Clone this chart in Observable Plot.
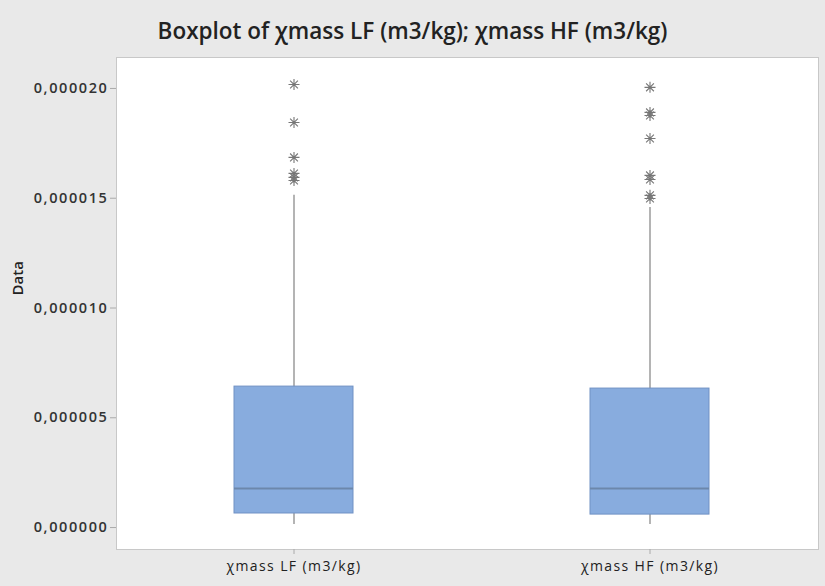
<!DOCTYPE html>
<html>
<head>
<meta charset="utf-8">
<script src="https://cdn.jsdelivr.net/npm/d3@7"></script>
<script src="https://cdn.jsdelivr.net/npm/@observablehq/plot@0.6"></script>
<style>
  html, body { margin: 0; padding: 0; background: #e9e9e9; }
  body { width: 825px; height: 586px; overflow: hidden; font-family: "Open Sans", "Noto Sans", sans-serif; }
  #title { height: 50px; line-height: 62px; text-align: center; font-size: 22.5px; font-weight: 600; color: #222; }
  #chart svg { display: block; }
  #chart g[aria-label="y-axis tick label"] text { letter-spacing: 1.6px; }
  #chart g[aria-label="x-axis tick label"] text { letter-spacing: 1.4px; }
</style>
</head>
<body>
<div id="title">Boxplot of χmass LF (m3/kg); χmass HF (m3/kg)</div>
<div id="chart"></div>
<script>
// Series names (x categories)
const categories = ["χmass LF (m3/kg)", "χmass HF (m3/kg)"];
// Box summaries
const whiskerLow  = [0.00000014, 0.00000014];
const q1          = [0.00000064, 0.00000059];
const median      = [0.00000178, 0.00000178];
const q3          = [0.00000642, 0.00000633];
const whiskerHigh = [0.00001513, 0.00001458];
// Outliers (asterisks)
const outliersLF = [0.00002018, 0.00001845, 0.00001686, 0.00001613, 0.00001595, 0.00001581];
const outliersHF = [0.00002005, 0.00001891, 0.00001877, 0.00001772, 0.00001604, 0.00001585, 0.00001513, 0.00001499];
// Y tick values
const yTicks = [0, 0.000005, 0.00001, 0.000015, 0.00002];

const stats = categories.map((name, i) => ({
  name, lo: whiskerLow[i], q1: q1[i], median: median[i], q3: q3[i], hi: whiskerHigh[i]
}));
const outliers = [
  ...outliersLF.map(v => ({name: categories[0], value: v})),
  ...outliersHF.map(v => ({name: categories[1], value: v}))
];
const fmt = d => d3.format(".6f")(d).replace(".", ",");

// 8-armed asterisk symbol (Minitab style)
const star8 = {
  draw(context, size) {
    const r = Math.sqrt(size / Math.PI);
    const d = r * Math.SQRT1_2;
    context.moveTo(0, -r); context.lineTo(0, r);
    context.moveTo(-r, 0); context.lineTo(r, 0);
    context.moveTo(-d, -d); context.lineTo(d, d);
    context.moveTo(-d, d); context.lineTo(d, -d);
  }
};

const chart = Plot.plot({
  width: 825,
  height: 536,
  marginLeft: 116,
  marginRight: 7,
  marginTop: 7,
  marginBottom: 37,
  style: { background: "transparent", fontFamily: "'Open Sans', 'Noto Sans', sans-serif", color: "#333" },
  x: { type: "band", domain: categories, range: [115.25, 828.25], paddingInner: 0.6662, paddingOuter: 0.3331, align: 0.5 },
  y: { domain: [-0.000001, 0.00002141] },
  marks: [
    Plot.frame({ fill: "white", stroke: "#c8c8c8" }),
    Plot.axisY({ ticks: yTicks, tickFormat: fmt, tickSize: 6, tickPadding: 2, stroke: "#aaa", fontSize: 14.5, fontWeight: 600, fill: "#333", label: null }),
    Plot.axisX({ tickSize: 5, tickPadding: 7, stroke: "#aaa", fontSize: 14, fill: "#222", label: null }),
    Plot.text(["Data"], { frameAnchor: "left", dx: -98, dy: -8, rotate: -90, fontSize: 15, fontWeight: 600, fill: "#222" }),
    Plot.ruleX(stats, { x: "name", y1: "lo", y2: "hi", stroke: "#8c8c8c", strokeWidth: 1.3 }),
    Plot.barY(stats, { x: "name", y1: "q1", y2: "q3", fill: "#88acde", stroke: "#7091c4", strokeWidth: 1 }),
    Plot.tickY(stats, { x: "name", y: "median", stroke: "#6c87ab", strokeWidth: 2 }),
    Plot.dot(outliers, { x: "name", y: "value", symbol: star8, r: 5.5, stroke: "#777", strokeWidth: 1.1 })
  ]
});
document.getElementById("chart").appendChild(chart);
</script>
</body>
</html>
